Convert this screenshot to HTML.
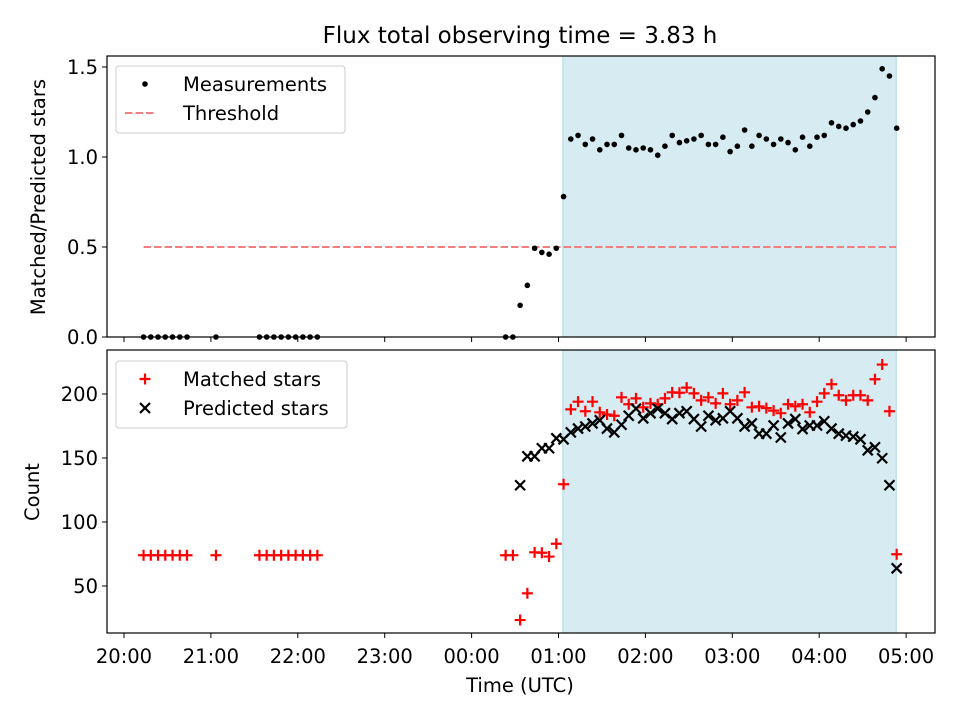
<!DOCTYPE html>
<html><head><meta charset="utf-8"><style>
body{margin:0;background:#fff}
svg{display:block;font-family:"DejaVu Sans","Liberation Sans",sans-serif}
</style></head><body>
<svg id="chart" width="960" height="720" viewBox="0 0 960 720">
<text x="520" y="43" text-anchor="middle" font-size="23">Flux total observing time = 3.83 h</text>
<g id="top"></g>
<g id="bot"></g>
<text x="520" y="692" text-anchor="middle" font-size="19.5">Time (UTC)</text>
<text transform="translate(45,197) rotate(-90)" text-anchor="middle" font-size="19.5">Matched/Predicted stars</text>
<text transform="translate(39,492) rotate(-90)" text-anchor="middle" font-size="19.5">Count</text>
</svg>
<script>
const zeroMinutes=[13.5,18.5,23.5,28.5,33.5,38.5,43.5,63.5,93.5,98.5,103.5,108.5,113.5,118.5,123.5,128.5,133.5];
const ratioValues=[0,0,0.176,0.287,0.493,0.47,0.46,0.493,0.78,1.10,1.12,1.07,1.10,1.04,1.07,1.07,1.12,1.05,1.04,1.05,1.04,1.01,1.06,1.12,1.08,1.09,1.10,1.12,1.07,1.07,1.11,1.03,1.06,1.15,1.06,1.12,1.10,1.07,1.10,1.08,1.04,1.11,1.06,1.11,1.12,1.19,1.17,1.16,1.18,1.20,1.25,1.33,1.49,1.45,1.16];
const matchedValues=[74,74,23.4,44.3,76.3,76,73,83,129.5,188,194,186.5,194,185.7,184,183,197.4,192,196.6,189.6,192.7,192,196.6,201.3,201,205,200.5,195,197.4,192.7,200.5,192,195,201.3,189.6,190.4,189,187,185,192,190.4,192,185.7,194,200.5,207.6,199,195,199,199,195,211.5,223,186.5,74.8];
const predictedValues=[null,null,128.7,151.3,151.3,157.6,157.6,165.4,164.6,170,173,174.6,177,179.5,173,170,176,183,188.6,181,185,188.6,185,180.4,185,186.5,180.4,174.6,183,179.5,181,186.5,181,174.6,177,169,169,175.4,166,177,180.4,172.6,175.4,175.4,178.7,173,169,167.5,166.7,164.6,156,158.4,149.8,128.7,63.8];
const earlyMatched=74;
const threshold=0.5;
const spanStart=303, spanEnd=533.2, lineStart=13.5;
const xTickLabels=["20:00","21:00","22:00","23:00","00:00","01:00","02:00","03:00","04:00","05:00"];
const topTicks=[0,0.5,1.0,1.5], topTickLabels=["0.0","0.5","1.0","1.5"];
const botTicks=[50,100,150,200];

const NS="http://www.w3.org/2000/svg";
const L=107,R=935;
const xs=m=>124+m*(86.9/60);
const yt=v=>337-v*180;
const yb=v=>586-(v-50)*1.28;
function mk(p,tag,at){const e=document.createElementNS(NS,tag);for(const k in at)e.setAttribute(k,at[k]);p.appendChild(e);return e;}
const late=ratioValues.map((_,i)=>263.5+5*i);
function panel(g,top,bot,yf,ticks,labels,isBottom){
  const r=mk(g,'rect',{x:xs(spanStart),y:top,width:xs(spanEnd)-xs(spanStart),height:bot-top,fill:'#add8e6','fill-opacity':0.5,stroke:'#add8e6'});
  
  
  ticks.forEach((t,i)=>{const y=yf(t);
    mk(g,'line',{x1:L-5,x2:L,y1:y,y2:y,stroke:'#000'});
    const tx=mk(g,'text',{x:L-9,y:y+7,'text-anchor':'end','font-size':19.5});tx.textContent=labels[i];
    
    });
  xTickLabels.forEach((lab,i)=>{const x=xs(i*60);
    mk(g,'line',{x1:x,x2:x,y1:bot,y2:bot+5,stroke:'#000'});
    if(isBottom){const tx=mk(g,'text',{x:x,y:bot+30,'text-anchor':'middle','font-size':19.5});tx.textContent=lab;
      
      }});
}
const T=document.getElementById('top'),B=document.getElementById('bot');
panel(T,56,337,yt,topTicks,topTickLabels,false);
const th=mk(T,'line',{x1:xs(lineStart),x2:xs(spanEnd),y1:yt(threshold),y2:yt(threshold),stroke:'#f08080','stroke-width':2,'stroke-dasharray':'7.5,3'});


zeroMinutes.forEach(m=>{const c=mk(T,'circle',{cx:xs(m),cy:yt(0),r:2.8,fill:'#000'});
  
  });
ratioValues.forEach((v,i)=>{const c=mk(T,'circle',{cx:xs(late[i]),cy:yt(v),r:2.8,fill:'#000'});
  
  });
mk(T,'rect',{x:L,y:56,width:R-L,height:281,fill:'none',stroke:'#000','stroke-width':1.2});

panel(B,350,633,yb,botTicks,botTicks.map(String),true);
function plus(g,x,y){const p=mk(g,'path',{d:`M${x-5.5} ${y}H${x+5.5}M${x} ${y-5.5}V${y+5.5}`,stroke:'#f00','stroke-width':2.2});
  
  }
function cross(g,x,y){const p=mk(g,'path',{d:`M${x-5} ${y-5}L${x+5} ${y+5}M${x-5} ${y+5}L${x+5} ${y-5}`,stroke:'#000','stroke-width':2.2});
  
  }
zeroMinutes.forEach(m=>plus(B,xs(m),yb(earlyMatched)));
matchedValues.forEach((v,i)=>plus(B,xs(late[i]),yb(v)));
predictedValues.forEach((v,i)=>{if(v!==null)cross(B,xs(late[i]),yb(v));});
mk(B,'rect',{x:L,y:350,width:R-L,height:283,fill:'none',stroke:'#000','stroke-width':1.2});

function legend(g,y0,w,items){
  const box=mk(g,'rect',{x:116,y:y0,width:w,height:67,rx:3,fill:'#fff','fill-opacity':0.85,stroke:'#ccc'});
  
  
  items.forEach((it,i)=>{const y=y0+18+i*29;it.draw(145,y);
    const t=mk(g,'text',{x:183,y:y+7,'font-size':19.5});t.textContent=it.label;
    
    });
}
legend(T,66,229,[{label:'Measurements',draw:(x,y)=>mk(T,'circle',{cx:x,cy:y,r:2.8,fill:'#000'})},
 {label:'Threshold',draw:(x,y)=>mk(T,'line',{x1:x-20,x2:x+10,y1:y,y2:y,stroke:'#f08080','stroke-width':2,'stroke-dasharray':'7.5,3'})}]);
legend(B,361,231,[{label:'Matched stars',draw:(x,y)=>plus(B,x,y)},{label:'Predicted stars',draw:(x,y)=>cross(B,x,y)}]);
</script>
</body></html>
